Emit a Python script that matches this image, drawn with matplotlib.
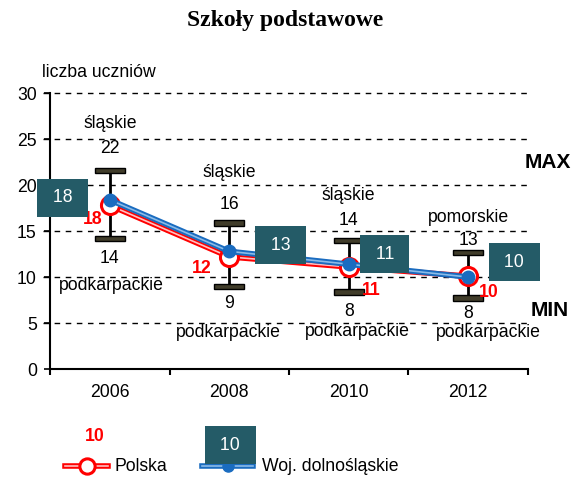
import matplotlib.pyplot as plt

plt.rcParams['font.family'] = ['Liberation Sans', 'DejaVu Sans']

# data
years = ['2006', '2008', '2010', '2012']
polska = [17.8, 12.2, 11.1, 10.1]
dolnoslaskie = [18.4, 12.8, 11.4, 10.0]
max_vals = [21.6, 15.9, 14.0, 12.7]
min_vals = [14.2, 9.0, 8.4, 7.7]
max_regions = ['śląskie', 'śląskie', 'śląskie', 'pomorskie']
min_regions = ['podkarpackie', 'podkarpackie', 'podkarpackie', 'podkarpackie']

teal = '#245b67'
fs = 12.7
x = list(range(len(years)))

fig = plt.figure(figsize=(5.71, 4.78), dpi=100)
ax = fig.add_axes([0.0876, 0.228, 0.837, 0.577])

ax.set_xlim(-0.5, 3.5)
ax.set_ylim(0, 30)
ax.set_yticks(range(0, 31, 5))
for v in range(5, 31, 5):
    ax.axhline(v, color='black', ls=(0, (4, 4)), lw=1, xmin=-0.015, clip_on=False, zorder=1)

# x axis: tick marks between categories, labels centred
ax.set_xticks([-0.5, 0.5, 1.5, 2.5, 3.5])
ax.set_xticklabels([])
ax.set_xticks(x, minor=True)
ax.set_xticklabels(years, minor=True)
ax.tick_params(axis='x', which='major', length=4.5, width=1.5, direction='out')
ax.tick_params(axis='x', which='minor', length=0, pad=11, labelsize=fs)
ax.tick_params(axis='y', length=4.5, width=1.2, pad=5, labelsize=fs)
for s in ['top', 'right']:
    ax.spines[s].set_visible(False)
ax.spines['left'].set_linewidth(1.5)
ax.spines['bottom'].set_linewidth(1.5)

# min/max bars
ax.vlines(x, min_vals, max_vals, color='black', lw=2, zorder=3)
ax.bar(x, 0.6, bottom=[v - 0.3 for v in max_vals], width=0.25,
       color='#403c2a', edgecolor='black', lw=1, zorder=3)
ax.bar(x, 0.6, bottom=[v - 0.3 for v in min_vals], width=0.25,
       color='#403c2a', edgecolor='black', lw=1, zorder=3)

# lines
ax.plot(x, polska, color='red', lw=4, zorder=4)
ax.plot(x, polska, color='#ffc0c0', lw=1.2, zorder=4.1)
ax.plot(x, polska, ls='none', marker='o', ms=13, mfc='white', mec='red', mew=2.2, zorder=4.2)
ax.plot(x, dolnoslaskie, color='#1a6cc0', lw=4, zorder=5)
ax.plot(x, dolnoslaskie, color='#8bbbe8', lw=1.2, zorder=5.1)
ax.plot(x, dolnoslaskie, ls='none', marker='o', ms=9, color='#1a6cc0', zorder=5.2)

# labels around the bars
max_num_off = [22, 18, 20, 12]
max_reg_off = [47, 50, 45, 35]
min_num_off = [20, 17, 20, 15]
min_reg_off = [47, 46, 40, 34]
min_reg_dx = [2, -1, 9, 20]
for i in x:
    ax.annotate(str(round(max_vals[i])), (i, max_vals[i]), xytext=(0, max_num_off[i]),
                textcoords='offset pixels', ha='center', va='center', fontsize=fs)
    ax.annotate(max_regions[i], (i, max_vals[i]), xytext=(0, max_reg_off[i]),
                textcoords='offset pixels', ha='center', va='center', fontsize=fs)
    ax.annotate(str(round(min_vals[i])), (i, min_vals[i]), xytext=(0, -min_num_off[i]),
                textcoords='offset pixels', ha='center', va='center', fontsize=fs)
    ax.annotate(min_regions[i], (i, min_vals[i]), xytext=(min_reg_dx[i], -min_reg_off[i]),
                textcoords='offset pixels', ha='center', va='center', fontsize=fs)

# value labels
red_off = [(-17, -14), (-27, -12), (23, -24), (21, -16)]
box_off = [(-47, 2), (51, 6), (36, 10), (46, 15)]
for i in x:
    ax.annotate(str(round(polska[i])), (i, polska[i]), xytext=red_off[i],
                textcoords='offset pixels', ha='center', va='center',
                fontsize=fs, color='red', fontweight='bold')
    ax.annotate(' %d ' % round(dolnoslaskie[i]), (i, dolnoslaskie[i]), xytext=box_off[i],
                textcoords='offset pixels', ha='center', va='center',
                fontsize=fs, color='white', zorder=6,
                bbox=dict(boxstyle='square,pad=0.6', fc=teal, ec='none'))

fig.text(0.5, 0.958, 'Szkoły podstawowe', ha='center', va='center',
         fontsize=17, fontweight='bold', family='Liberation Serif')
fig.text(0.074, 0.849, 'liczba uczniów', ha='left', va='center', fontsize=fs)
fig.text(0.959, 0.661, 'MAX', ha='center', va='center', fontsize=15, fontweight='bold')
fig.text(0.963, 0.351, 'MIN', ha='center', va='center', fontsize=15, fontweight='bold')

# legend drawn by hand like the original
fig.text(0.166, 0.086, '10', ha='center', va='center', fontsize=fs,
         color='red', fontweight='bold')
fig.text(0.403, 0.069, ' 10 ', ha='center', va='center', fontsize=fs, color='white',
         bbox=dict(boxstyle='square,pad=0.6', fc=teal, ec='none'))
lax = fig.add_axes([0, 0, 1, 0.1])
lax.set_xlim(0, 571)
lax.set_ylim(47.8, 0)
lax.axis('off')
lax.plot([65, 108], [36, 36], color='red', lw=4)
lax.plot([65, 108], [36, 36], color='#ffc0c0', lw=1.2)
lax.plot([87], [36], marker='o', ms=11, mfc='white', mec='red', mew=2.2)
lax.plot([202, 253], [36, 36], color='#1a6cc0', lw=4)
lax.plot([202, 253], [36, 36], color='#8bbbe8', lw=1.2)
lax.plot([228], [36], marker='o', ms=8, color='#1a6cc0')
lax.text(114, 36, 'Polska', ha='left', va='center', fontsize=fs)
lax.text(262, 36, 'Woj. dolnośląskie', ha='left', va='center', fontsize=fs)

fig.savefig('out.png', dpi=100)
